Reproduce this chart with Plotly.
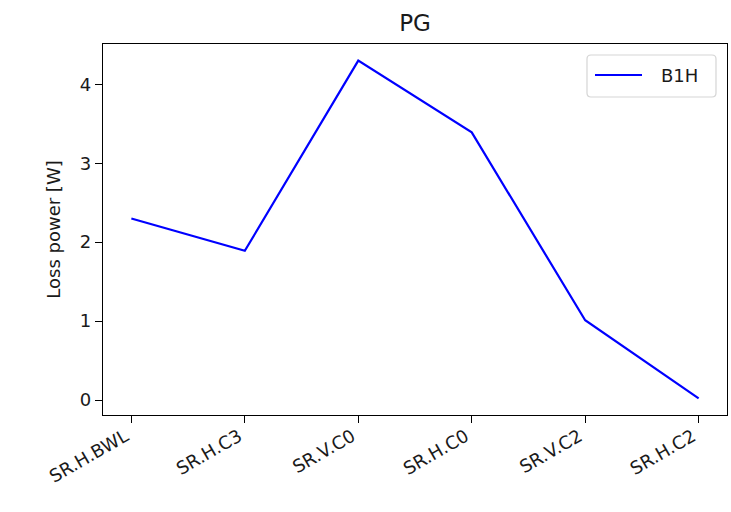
import plotly.graph_objects as go

# Loss power per sensor position
positions = ["SR.H.BWL", "SR.H.C3", "SR.V.C0", "SR.H.C0", "SR.V.C2", "SR.H.C2"]
loss_b1h = [2.30, 1.89, 4.30, 3.39, 1.01, 0.02]
series_name = "B1H"

FONT = "DejaVu Sans"
TXT = "#1a1a1a"
LINE_COLOR = "#0000ff"

W, H = 731, 512
M_L, M_R, M_T, M_B = 103, 4, 44, 97
PW, PH = W - M_L - M_R, H - M_T - M_B


def px(x):
    """Pixel column -> paper x."""
    return (x - M_L) / PW


def py(y):
    """Pixel row -> paper y."""
    return (H - M_B - y) / PH


fig = go.Figure()
fig.add_trace(go.Scatter(
    x=list(range(len(positions))), y=loss_b1h, mode="lines", name=series_name,
    line=dict(color=LINE_COLOR, width=2.2), showlegend=False,
))

axis_common = dict(
    showline=True, linecolor="black", linewidth=1.2, mirror=True,
    ticks="outside", ticklen=7, tickcolor="black", tickwidth=1.2,
    showgrid=False, zeroline=False,
    tickfont=dict(family=FONT, size=18, color=TXT),
)

# Legend frame with rounded corners, drawn as a path in paper coordinates
x0, x1, y0, y1 = px(587), px(716), py(97), py(55)
rx, ry = 4 / PW, 4 / PH
frame = (f"M{x0+rx},{y0} L{x1-rx},{y0} Q{x1},{y0} {x1},{y0+ry} "
         f"L{x1},{y1-ry} Q{x1},{y1} {x1-rx},{y1} L{x0+rx},{y1} "
         f"Q{x0},{y1} {x0},{y1-ry} L{x0},{y0+ry} Q{x0},{y0} {x0+rx},{y0} Z")

fig.update_layout(
    width=W, height=H,
    margin=dict(l=M_L, r=M_R, t=M_T, b=M_B),
    paper_bgcolor="white", plot_bgcolor="white",
    title=dict(text="PG", x=(M_L + W - M_R) / 2 / W, xanchor="center",
               y=1 - 23 / H, yanchor="middle",
               font=dict(family=FONT, size=23, color=TXT)),
    xaxis=dict(**axis_common, range=[-0.25, 5.25],
               tickmode="array", tickvals=list(range(len(positions))),
               ticktext=positions, tickangle=-30,
               ticklabelshift=-6, ticklabelstandoff=-4),
    yaxis=dict(**axis_common, range=[-0.19, 4.51], tickvals=[0, 1, 2, 3, 4],
               title=dict(text="Loss power [W]", standoff=14,
                          font=dict(family=FONT, size=18, color=TXT))),
    showlegend=False,
    shapes=[
        dict(type="path", xref="paper", yref="paper", path=frame,
             line=dict(color="#d5d5d5", width=1.2),
             fillcolor="rgba(255,255,255,0.8)", layer="above"),
        dict(type="line", xref="paper", yref="paper",
             x0=px(595), x1=px(642), y0=py(75), y1=py(75),
             line=dict(color=LINE_COLOR, width=2.2), layer="above"),
    ],
    annotations=[
        dict(text=series_name, xref="paper", yref="paper",
             x=px(659), y=py(76), xanchor="left", yanchor="middle",
             showarrow=False, font=dict(family=FONT, size=18, color=TXT)),
    ],
)

fig.write_html("out.html")
